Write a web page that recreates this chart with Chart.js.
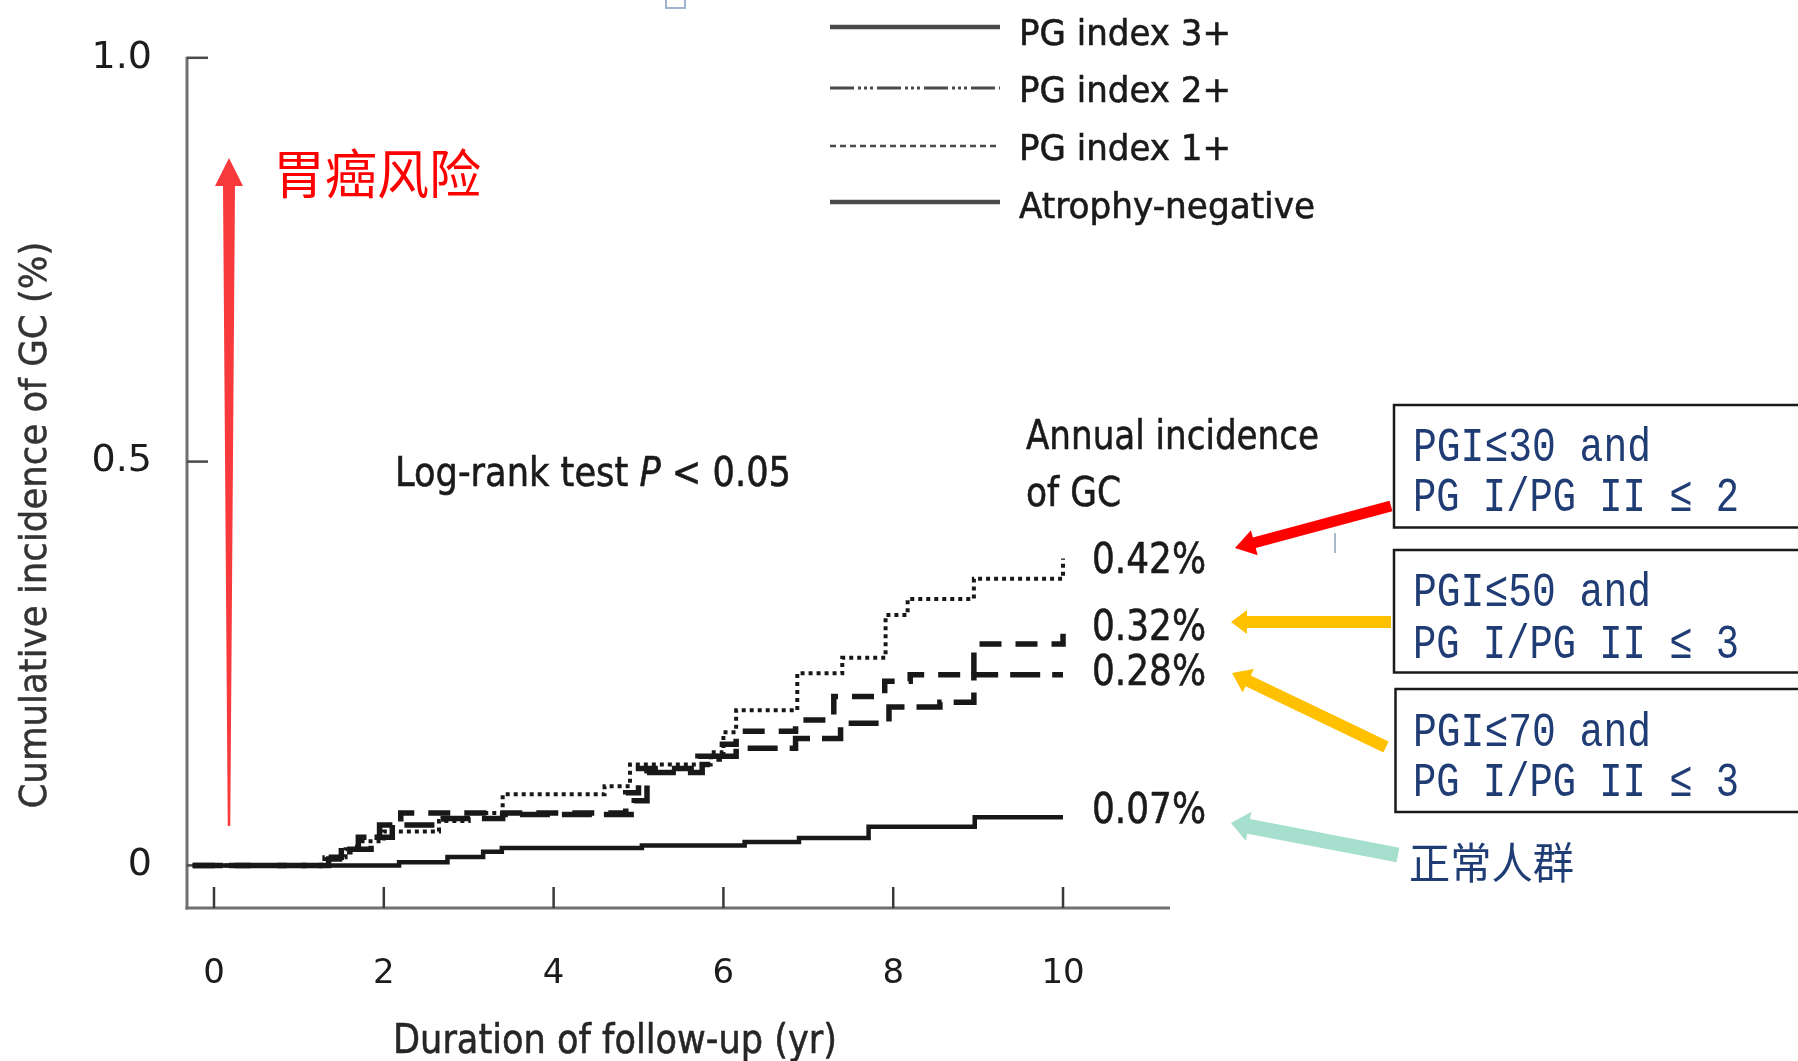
<!DOCTYPE html>
<html lang="zh-CN">
<head>
<meta charset="utf-8">
<title>Cumulative incidence of GC by PG index</title>
<script src="https://cdn.jsdelivr.net/npm/chart.js@4.4.1/dist/chart.umd.min.js"></script>
<style>
  html, body { margin: 0; padding: 0; background: #fff; }
  #chart { display: block; }
</style>
</head>
<body>
<canvas id="chart" width="1798" height="1061"></canvas>
<script>
// --- step data: follow-up (yr) vs cumulative incidence of GC (%) ---
const pg3Years  = [-0.25, 1.3, 1.55, 1.75, 2.0, 2.65, 3.0, 3.4, 4.6, 4.9, 5.85, 6.0, 6.15, 6.87, 7.4, 7.91, 8.17, 8.95, 10];
const pg3Values = [0, 0.01, 0.02, 0.03, 0.042, 0.055, 0.065, 0.088, 0.098, 0.125, 0.14, 0.165, 0.192, 0.238, 0.257, 0.31, 0.33, 0.355, 0.38];

const pg2Years  = [-0.25, 1.25, 1.5, 1.7, 1.95, 2.2, 4.85, 5.0, 5.7, 5.95, 6.15, 6.85, 7.3, 7.9, 8.2, 8.95, 10];
const pg2Values = [0, 0.01, 0.022, 0.035, 0.05, 0.065, 0.09, 0.12, 0.135, 0.15, 0.166, 0.18, 0.209, 0.228, 0.236, 0.274, 0.287];

const pg1Years  = [-0.25, 1.35, 1.6, 1.85, 2.1, 2.7, 3.4, 4.95, 5.1, 5.75, 5.95, 6.15, 6.85, 7.38, 7.95, 8.55, 8.95, 10];
const pg1Values = [0, 0.008, 0.02, 0.035, 0.05, 0.058, 0.063, 0.08, 0.115, 0.125, 0.135, 0.145, 0.157, 0.176, 0.196, 0.202, 0.236, 0.236];

const negYears  = [-0.25, 2.18, 2.75, 3.17, 3.39, 5.04, 6.25, 6.89, 7.71, 8.96, 10];
const negValues = [0, 0.004, 0.0104, 0.017, 0.0215, 0.0245, 0.029, 0.034, 0.048, 0.0595, 0.0595];

const seriesNames = ['PG index 3+', 'PG index 2+', 'PG index 1+', 'Atrophy-negative'];
const annualRates = ['0.42%', '0.32%', '0.28%', '0.07%'];
const groupRules = [
  ['PGI≤30 and', 'PG I/PG II ≤ 2'],
  ['PGI≤50 and', 'PG I/PG II ≤ 3'],
  ['PGI≤70 and', 'PG I/PG II ≤ 3']
];

const xTickValues = [0, 2, 4, 6, 8, 10];
const yTickValues = [0, 0.5, 1.0];

// --- 樣式 ---
const SANS = '"DejaVu Sans", Verdana, sans-serif';
const CJK = '"Noto Sans CJK SC", sans-serif';
const MONO = '"Liberation Mono", monospace';
const INK = '#1a1a1a';
const CURVE = '#181818';
const BLUE = '#203c74';

Chart.defaults.font.family = SANS;
Chart.defaults.color = INK;

const toPoints = (xs, ys) => xs.map((x, i) => ({ x, y: ys[i] }));

function stepSet(label, xs, ys, dash, width) {
  return {
    label,
    data: toPoints(xs, ys),
    stepped: 'before',
    borderColor: CURVE,
    borderWidth: width,
    borderDash: dash,
    borderCapStyle: 'butt',
    pointRadius: 0,
    fill: false
  };
}

// --- 文字與箭頭 ---
function text(ctx, str, x, y, size, opt = {}) {
  ctx.save();
  ctx.font = `${opt.italic ? 'italic ' : ''}${size}px ${opt.font || SANS}`;
  ctx.fillStyle = opt.color || INK;
  ctx.textAlign = 'left';
  ctx.textBaseline = opt.baseline || 'alphabetic';
  const w = ctx.measureText(str).width;
  const sx = opt.width ? opt.width / w : 1;
  ctx.translate(x, y);
  if (opt.rotate) ctx.rotate(opt.rotate);
  ctx.scale(sx, 1);
  const x0 = opt.center ? -w / 2 : 0;
  ctx.fillText(str, x0, 0);
  if (opt.heavy) {
    ctx.strokeStyle = ctx.fillStyle;
    ctx.lineWidth = opt.heavy;
    ctx.strokeText(str, x0, 0);
  }
  ctx.restore();
}

function textRuns(ctx, parts, x, y, size, width) {
  const fontOf = it => `${it ? 'italic ' : ''}${size}px ${SANS}`;
  ctx.save();
  let total = 0;
  parts.forEach(([s, it]) => { ctx.font = fontOf(it); total += ctx.measureText(s).width; });
  ctx.translate(x, y);
  ctx.scale(width / total, 1);
  ctx.fillStyle = INK;
  ctx.strokeStyle = INK;
  ctx.lineWidth = 0.6;
  ctx.textBaseline = 'alphabetic';
  let cx = 0;
  parts.forEach(([s, it]) => {
    ctx.font = fontOf(it);
    ctx.fillText(s, cx, 0);
    ctx.strokeText(s, cx, 0);
    cx += ctx.measureText(s).width;
  });
  ctx.restore();
}

function arrow(ctx, tail, tip, o) {
  const dx = tip[0] - tail[0], dy = tip[1] - tail[1];
  const len = Math.hypot(dx, dy);
  const ux = dx / len, uy = dy / len, px = -uy, py = ux;
  const bx = tip[0] - ux * o.head, by = tip[1] - uy * o.head;
  const tw = (o.tail ?? o.shaft) / 2, sw = o.shaft / 2, hw = o.headWidth / 2;
  ctx.save();
  ctx.beginPath();
  ctx.moveTo(tail[0] + px * tw, tail[1] + py * tw);
  ctx.lineTo(bx + px * sw, by + py * sw);
  ctx.lineTo(bx + px * hw, by + py * hw);
  ctx.lineTo(tip[0], tip[1]);
  ctx.lineTo(bx - px * hw, by - py * hw);
  ctx.lineTo(bx - px * sw, by - py * sw);
  ctx.lineTo(tail[0] - px * tw, tail[1] - py * tw);
  ctx.closePath();
  ctx.fillStyle = o.color;
  ctx.fill();
  ctx.restore();
}

function line(ctx, x1, y1, x2, y2, color, width, dash = []) {
  ctx.save();
  ctx.strokeStyle = color;
  ctx.lineWidth = width;
  ctx.setLineDash(dash);
  ctx.beginPath();
  ctx.moveTo(x1, y1);
  ctx.lineTo(x2, y2);
  ctx.stroke();
  ctx.restore();
}

// 軸線、刻度朝內
const axesPlugin = {
  id: 'inwardAxes',
  beforeDatasetsDraw(chart) {
    const { ctx, chartArea: a, scales: { x, y } } = chart;
    line(ctx, a.left, a.top - 1, a.left, a.bottom + 1.5, '#707070', 3);
    line(ctx, a.left - 1.5, a.bottom, a.right, a.bottom, '#707070', 3);
    yTickValues.forEach(v => {
      const py = y.getPixelForValue(v);
      line(ctx, a.left, py, a.left + 21, py, '#4a4a4a', 2.5);
    });
    xTickValues.forEach(v => {
      const px = x.getPixelForValue(v);
      line(ctx, px, a.bottom, px, a.bottom - 21, '#3a3a3a', 2.5);
    });
  }
};

// 圖例、註解、分組框
const notesPlugin = {
  id: 'figureNotes',
  afterDraw(chart) {
    const { ctx } = chart;

    // legend
    const legendDash = [[], [24, 4, 3, 3, 3, 3, 3, 4], [6, 4], []];
    const legendWidth = [4.5, 3, 2.5, 4.5];
    const legendLineY = [27, 88, 146, 202];
    const legendBase = [45, 102, 160, 218];
    const legendTextW = [212, 212, 212, 296];
    seriesNames.forEach((name, i) => {
      line(ctx, 830, legendLineY[i], 1000, legendLineY[i], '#4a4a4a', legendWidth[i], legendDash[i]);
      text(ctx, name, 1019, legendBase[i], 35, { width: legendTextW[i], heavy: 0.6 });
    });

    // axis titles
    text(ctx, 'Cumulative incidence of GC (%)', 36, 525, 38,
      { rotate: -Math.PI / 2, center: true, baseline: 'middle', width: 567, color: '#333', heavy: 0.5 });
    text(ctx, 'Duration of follow-up (yr)', 393, 1053, 41, { width: 444, color: '#262626', heavy: 0.6 });

    textRuns(ctx, [['Log-rank test ', false], ['P', true], [' < 0.05', false]], 395, 486, 41, 396);

    text(ctx, 'Annual incidence', 1026, 449, 41, { width: 293, heavy: 0.6 });
    text(ctx, 'of GC', 1026, 506, 41, { width: 95, heavy: 0.6 });
    const rateBase = [573, 640, 685, 823];
    annualRates.forEach((r, i) => text(ctx, r, 1092, rateBase[i], 43, { width: 114, heavy: 0.6 }));

    // risk arrow
    arrow(ctx, [229, 826], [229, 158], { shaft: 12, tail: 2.5, headWidth: 28, head: 28, color: '#f83a3d' });
    text(ctx, '胃癌风险', 273, 174, 53, { font: CJK, color: '#ff0000', baseline: 'middle', width: 208 });

    // criteria boxes
    const boxTop = [405, 550, 689];
    const boxBottom = [527.5, 672.5, 812];
    const ruleBase = [[461, 511], [606, 658], [746, 796]];
    ctx.save();
    ctx.strokeStyle = '#1a1a1a';
    ctx.lineWidth = 2.5;
    boxTop.forEach((t, i) => ctx.strokeRect(1394 + (i === 2 ? 1.5 : 0), t, 500, boxBottom[i] - t));
    ctx.restore();
    groupRules.forEach((rows, i) => {
      text(ctx, rows[0], 1413, ruleBase[i][0], 49, { font: MONO, color: BLUE, width: 238 });
      text(ctx, rows[1], 1413, ruleBase[i][1], 49, { font: MONO, color: BLUE, width: 326 });
    });
    text(ctx, '正常人群', 1409, 863, 43, { font: CJK, color: BLUE, baseline: 'middle', width: 165 });

    // pointers from groups to curves
    arrow(ctx, [1391, 506], [1235, 548], { shaft: 11, headWidth: 26, head: 20, color: '#ff0000' });
    arrow(ctx, [1391, 622], [1231, 622], { shaft: 12, headWidth: 24, head: 16, color: '#ffc000' });
    arrow(ctx, [1386, 747], [1232, 673], { shaft: 12, headWidth: 26, head: 18, color: '#ffc000' });
    arrow(ctx, [1398, 855], [1231, 823], { shaft: 15, headWidth: 30, head: 18, color: '#a6dfce' });

    // small marks left on the figure
    line(ctx, 1335, 533, 1335, 553, '#a9b8cc', 2);
    ctx.save();
    ctx.strokeStyle = '#9fb4d0';
    ctx.lineWidth = 2;
    ctx.beginPath();
    ctx.moveTo(666, 0); ctx.lineTo(666, 8); ctx.lineTo(685, 8); ctx.lineTo(685, 0);
    ctx.stroke();
    ctx.restore();
  }
};

new Chart(document.getElementById('chart'), {
  type: 'line',
  data: {
    datasets: [
      stepSet(seriesNames[0], pg3Years, pg3Values, [4, 4], 4),
      stepSet(seriesNames[1], pg2Years, pg2Values, [22, 14], 5.5),
      stepSet(seriesNames[2], pg1Years, pg1Values, [30, 12], 5.5),
      stepSet(seriesNames[3], negYears, negValues, [], 4.5)
    ]
  },
  options: {
    responsive: false,
    animation: false,
    devicePixelRatio: 1,
    layout: { padding: { top: 50, right: 628, left: 0, bottom: 0 } },
    plugins: { legend: { display: false }, tooltip: { enabled: false } },
    scales: {
      x: {
        type: 'linear',
        min: -0.318,
        max: 11.26,
        afterFit: s => { s.height = 153; },
        afterBuildTicks: s => { s.ticks = xTickValues.map(v => ({ value: v })); },
        grid: { display: false, drawTicks: false },
        border: { display: false },
        ticks: { padding: 46, font: { size: 34 }, color: '#1c1c1c' }
      },
      y: {
        type: 'linear',
        min: -0.05276,
        max: 1.0,
        afterFit: s => { s.width = 187; },
        afterBuildTicks: s => { s.ticks = yTickValues.map(v => ({ value: v })); },
        grid: { display: false, drawTicks: false },
        border: { display: false },
        ticks: { padding: 35, font: { size: 38 }, color: '#1c1c1c', callback: v => v === 0 ? '0' : v.toFixed(1) }
      }
    }
  },
  plugins: [axesPlugin, notesPlugin]
});
</script>
</body>
</html>
